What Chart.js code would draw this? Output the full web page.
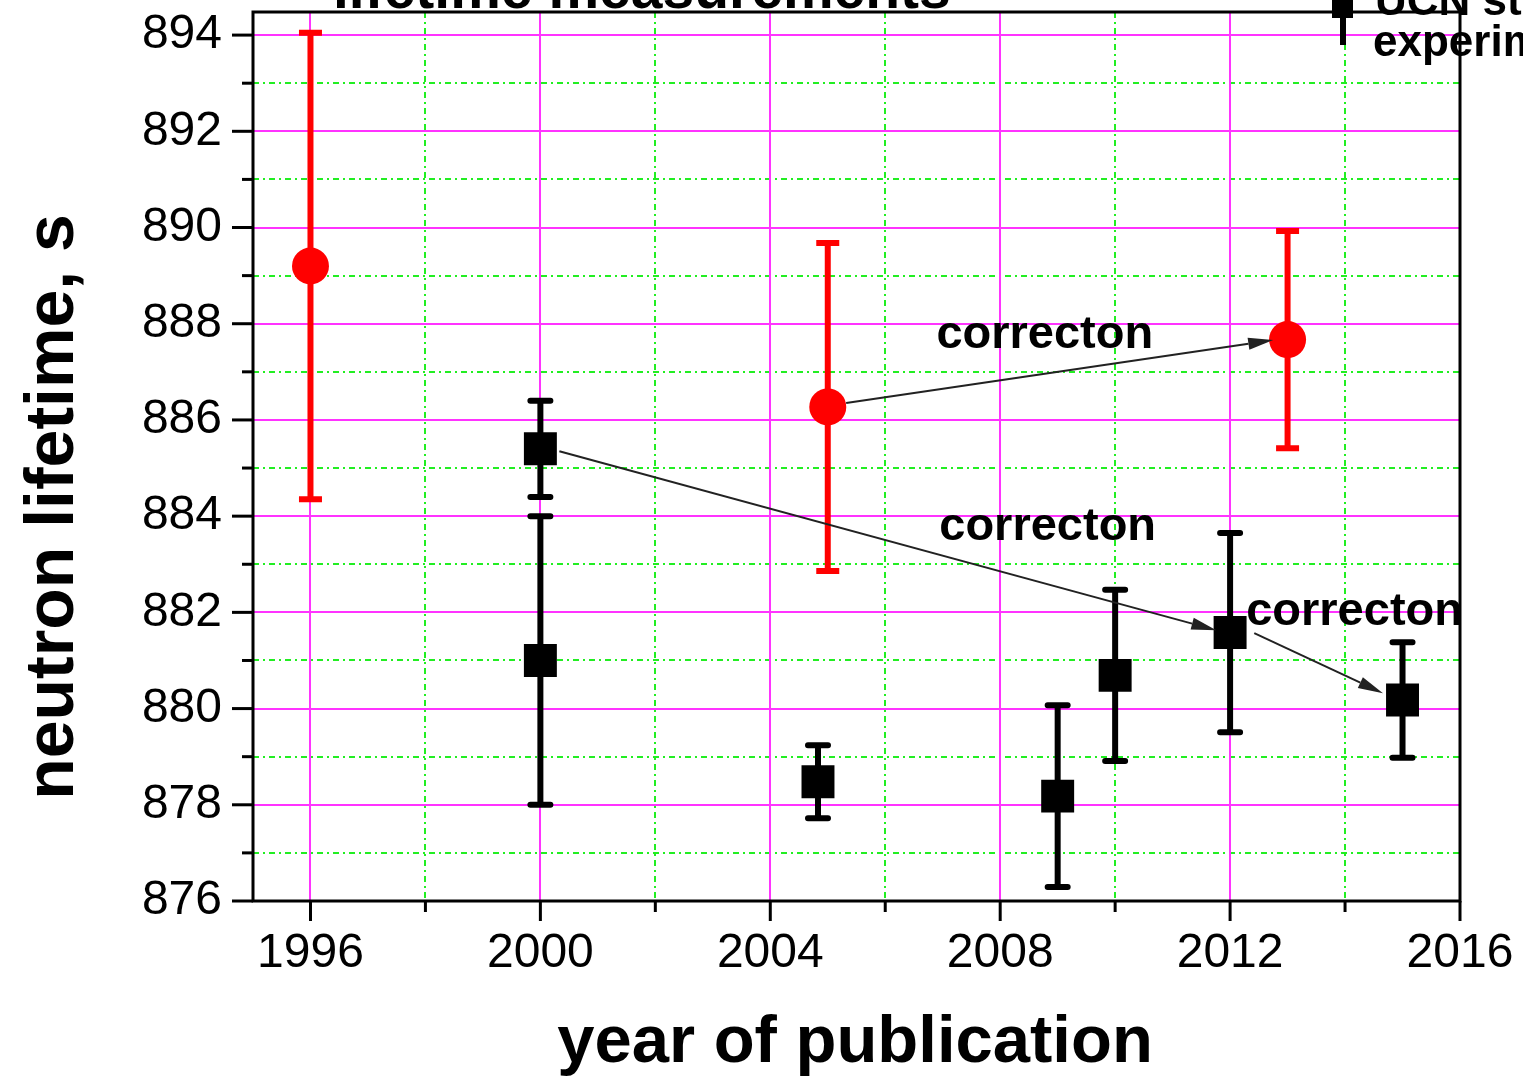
<!DOCTYPE html>
<html>
<head>
<meta charset="utf-8">
<script src="https://cdn.jsdelivr.net/npm/chart.js@4.4.1/dist/chart.umd.min.js"></script>
<style>
  html, body { margin: 0; padding: 0; background: #fff; }
  canvas { display: block; }
</style>
</head>
<body>
<canvas id="chart" width="1523" height="1076"></canvas>
<script>
// beam experiments (red circles)
const redYears = [1996, 2005, 2013];
const redLife = [889.2, 886.27, 887.67];
const redErr = [4.85, 3.41, 2.26];

// UCN experiments (black squares)
const blackYears = [2000, 2000, 2004.83, 2009, 2010, 2012, 2015];
const blackLife = [885.4, 881.0, 878.48, 878.18, 880.69, 881.58, 880.18];
const blackErr = [1.0, 3.0, 0.76, 1.89, 1.78, 2.07, 1.2];

// ticks
const xMajor = [1996, 2000, 2004, 2008, 2012, 2016];
const xMinor = [1998, 2002, 2006, 2010, 2014];
const yMajor = [876, 878, 880, 882, 884, 886, 888, 890, 892, 894];
const yMinor = [877, 879, 881, 883, 885, 887, 889, 891, 893];

// correction arrows and their labels (data coordinates)
const arrowFrom = [[2005.32, 886.35], [2000.33, 885.35], [2012.42, 881.57]];
const arrowTo = [[2012.75, 887.66], [2011.76, 881.63], [2014.66, 880.32]];
const noteText = ["correcton", "correcton", "correcton"];
const notePos = [[2006.89, 887.49], [2006.94, 883.5], [2012.28, 881.73]];

const legendLines = ["UCN storage", "experiments"];
const FONT = '"Liberation Sans", Arial, sans-serif';

const decor = {
  id: 'decor',
  beforeDatasetsDraw(chart) {
    const { ctx, chartArea: a, scales: { x, y } } = chart;
    ctx.save();
    // minor grid (green dash-dot)
    ctx.strokeStyle = '#22ee22';
    ctx.lineWidth = 2;
    ctx.setLineDash([6, 4, 2, 4]);
    xMinor.forEach(v => {
      const px = Math.round(x.getPixelForValue(v));
      ctx.beginPath(); ctx.moveTo(px, a.top); ctx.lineTo(px, a.bottom); ctx.stroke();
    });
    yMinor.forEach(v => {
      const py = Math.round(y.getPixelForValue(v));
      ctx.beginPath(); ctx.moveTo(a.left, py); ctx.lineTo(a.right, py); ctx.stroke();
    });
    // major grid (magenta)
    ctx.setLineDash([]);
    ctx.strokeStyle = '#ff33ff';
    xMajor.forEach(v => {
      const px = Math.round(x.getPixelForValue(v));
      ctx.beginPath(); ctx.moveTo(px, a.top); ctx.lineTo(px, a.bottom); ctx.stroke();
    });
    yMajor.forEach(v => {
      const py = Math.round(y.getPixelForValue(v));
      ctx.beginPath(); ctx.moveTo(a.left, py); ctx.lineTo(a.right, py); ctx.stroke();
    });

    // error bars
    const bars = (years, vals, errs, color, capHalf, cap) => {
      ctx.strokeStyle = color;
      years.forEach((yr, i) => {
        const px = x.getPixelForValue(yr);
        const top = y.getPixelForValue(vals[i] + errs[i]);
        const bot = y.getPixelForValue(vals[i] - errs[i]);
        ctx.lineWidth = 6;
        ctx.lineCap = 'butt';
        ctx.beginPath(); ctx.moveTo(px, top); ctx.lineTo(px, bot); ctx.stroke();
        ctx.lineCap = cap;
        ctx.beginPath();
        ctx.moveTo(px - capHalf, top); ctx.lineTo(px + capHalf, top);
        ctx.moveTo(px - capHalf, bot); ctx.lineTo(px + capHalf, bot);
        ctx.stroke();
      });
    };
    bars(redYears, redLife, redErr, '#ff0000', 11.5, 'butt');
    bars(blackYears, blackLife, blackErr, '#000000', 10, 'round');
    ctx.restore();
  },
  afterDatasetsDraw(chart) {
    const { ctx, chartArea: a, scales: { x, y } } = chart;
    ctx.save();

    // arrows
    ctx.strokeStyle = '#222';
    ctx.fillStyle = '#222';
    ctx.lineWidth = 2;
    arrowFrom.forEach((p, i) => {
      const x1 = x.getPixelForValue(p[0]), y1 = y.getPixelForValue(p[1]);
      const x2 = x.getPixelForValue(arrowTo[i][0]), y2 = y.getPixelForValue(arrowTo[i][1]);
      const ang = Math.atan2(y2 - y1, x2 - x1);
      const len = 25, half = 6;
      const bx = x2 - len * Math.cos(ang), by = y2 - len * Math.sin(ang);
      ctx.beginPath(); ctx.moveTo(x1, y1); ctx.lineTo(bx, by); ctx.stroke();
      ctx.beginPath();
      ctx.moveTo(x2, y2);
      ctx.lineTo(bx + half * Math.sin(ang), by - half * Math.cos(ang));
      ctx.lineTo(bx - half * Math.sin(ang), by + half * Math.cos(ang));
      ctx.closePath(); ctx.fill();
    });

    // correction labels
    ctx.fillStyle = '#000';
    ctx.font = 'bold 47px ' + FONT;
    ctx.textAlign = 'left';
    ctx.textBaseline = 'alphabetic';
    noteText.forEach((t, i) => {
      ctx.fillText(t, x.getPixelForValue(notePos[i][0]), y.getPixelForValue(notePos[i][1]));
    });

    // frame
    ctx.strokeStyle = '#000';
    ctx.lineWidth = 3;
    ctx.lineCap = 'square';
    ctx.strokeRect(a.left, a.top, a.right - a.left, a.bottom - a.top);

    // tick marks (outward)
    ctx.lineCap = 'butt';
    yMajor.forEach(v => {
      const py = y.getPixelForValue(v);
      ctx.beginPath(); ctx.moveTo(a.left - 21, py); ctx.lineTo(a.left, py); ctx.stroke();
    });
    yMinor.forEach(v => {
      const py = y.getPixelForValue(v);
      ctx.beginPath(); ctx.moveTo(a.left - 11, py); ctx.lineTo(a.left, py); ctx.stroke();
    });
    xMajor.forEach(v => {
      const px = x.getPixelForValue(v);
      ctx.beginPath(); ctx.moveTo(px, a.bottom); ctx.lineTo(px, a.bottom + 20); ctx.stroke();
    });
    xMinor.forEach(v => {
      const px = x.getPixelForValue(v);
      ctx.beginPath(); ctx.moveTo(px, a.bottom); ctx.lineTo(px, a.bottom + 11); ctx.stroke();
    });

    // axis titles
    ctx.fillStyle = '#000';
    ctx.font = 'bold 67px ' + FONT;
    ctx.textAlign = 'center';
    ctx.textBaseline = 'alphabetic';
    ctx.fillText('year of publication', 855, 1062);
    ctx.save();
    ctx.translate(73, 507);
    ctx.rotate(-Math.PI / 2);
    ctx.font = 'bold 68px ' + FONT;
    ctx.fillText('neutron lifetime, s', 0, 0);
    ctx.restore();

    // plot title (cut by the top edge)
    ctx.font = 'bold 57px ' + FONT;
    ctx.textAlign = 'left';
    ctx.fillText('lifetime measurements', 333, 8);

    // legend (cut by the right edge)
    ctx.fillRect(1332, -4, 21, 22);
    ctx.fillRect(1340, 0, 6, 45);
    ctx.font = 'bold 44px ' + FONT;
    ctx.fillText(legendLines[0], 1375, 15);
    ctx.fillText(legendLines[1], 1373, 56);
    ctx.restore();
  }
};

new Chart(document.getElementById('chart'), {
  type: 'scatter',
  data: {
    datasets: [
      {
        label: 'beam',
        data: redYears.map((yr, i) => ({ x: yr, y: redLife[i] })),
        pointStyle: 'circle',
        pointRadius: 18.5,
        backgroundColor: '#ff0000',
        borderWidth: 0
      },
      {
        label: 'UCN',
        data: blackYears.map((yr, i) => ({ x: yr, y: blackLife[i] })),
        pointStyle: 'rect',
        pointRadius: 23.3,
        backgroundColor: '#000000',
        borderWidth: 0
      }
    ]
  },
  options: {
    responsive: false,
    animation: false,
    events: [],
    layout: { autoPadding: false, padding: { top: 12, right: 63, left: 0, bottom: 0 } },
    plugins: { legend: { display: false }, tooltip: { enabled: false } },
    scales: {
      x: {
        type: 'linear',
        min: 1995,
        max: 2016,
        afterBuildTicks: s => { s.ticks = xMajor.map(v => ({ value: v })); },
        afterFit: s => {
          s.height = 175;
          s.paddingLeft = 0; s.paddingRight = 0; s.paddingTop = 0; s.paddingBottom = 0;
        },
        grid: { display: false, drawTicks: false },
        border: { display: false },
        ticks: {
          color: '#000',
          padding: 24,
          maxRotation: 0,
          font: { family: FONT, size: 48 },
          callback: v => String(v)
        }
      },
      y: {
        type: 'linear',
        min: 876,
        max: 894.48,
        afterBuildTicks: s => { s.ticks = yMajor.map(v => ({ value: v })); },
        afterFit: s => {
          s.width = 253;
          s.paddingLeft = 0; s.paddingRight = 0; s.paddingTop = 0; s.paddingBottom = 0;
        },
        grid: { display: false, drawTicks: false },
        border: { display: false },
        ticks: {
          color: '#000',
          padding: 31,
          font: { family: FONT, size: 48 },
          callback: v => String(v)
        }
      }
    }
  },
  plugins: [decor]
});
</script>
</body>
</html>
